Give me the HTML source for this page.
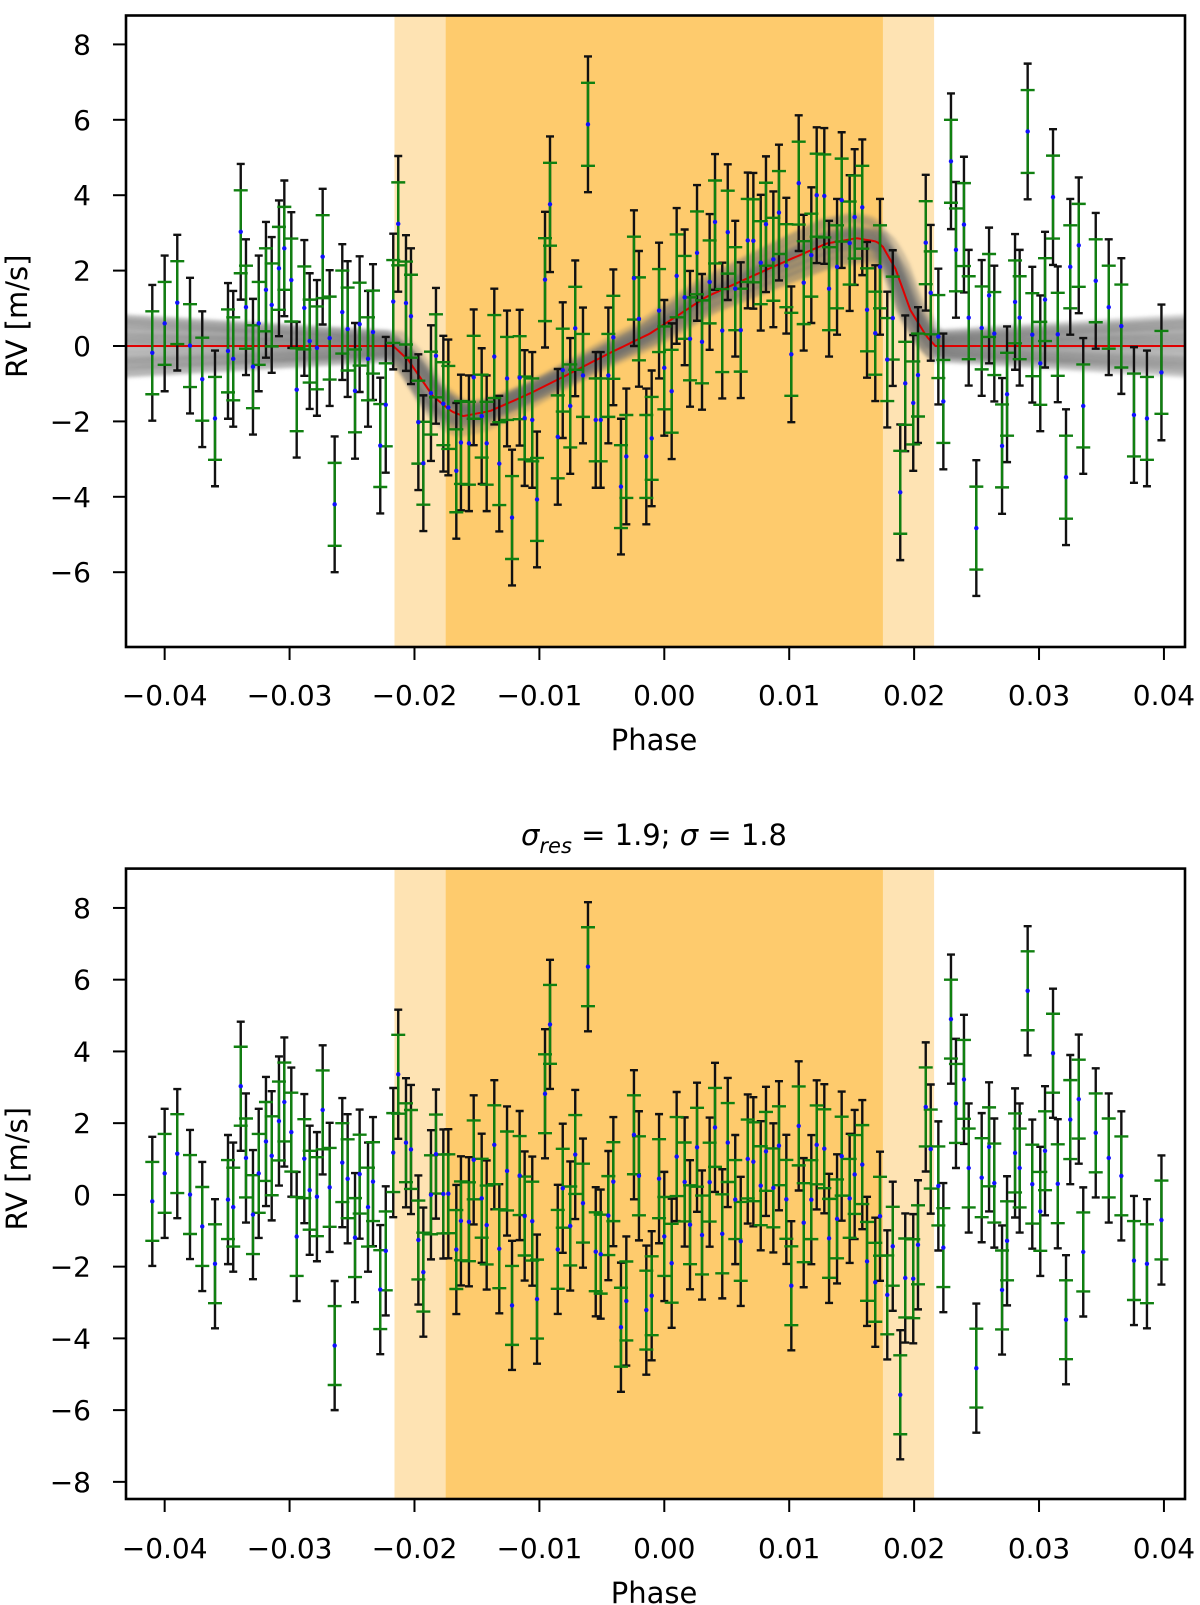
<!DOCTYPE html>
<html><head><meta charset="utf-8"><style>
html,body{margin:0;padding:0;background:#fff;}
svg{display:block;font-family:"DejaVu Sans","Liberation Sans",sans-serif;}
</style></head><body>
<svg id="chart" width="1200" height="1605" viewBox="0 0 1200 1605" xmlns="http://www.w3.org/2000/svg">
<defs>
<clipPath id="clipTop"><rect x="126" y="15.5" width="1059" height="631.5"/></clipPath>
<clipPath id="clipBot"><rect x="126" y="868.6" width="1059" height="630.4"/></clipPath>
<filter id="soft"><feGaussianBlur stdDeviation="1.5"/></filter>
</defs>
<g id="top"></g>
<g id="bot"></g>
<text x="654" y="845" text-anchor="middle" font-size="29"><tspan font-style="italic">σ</tspan><tspan font-style="italic" font-size="21" dy="8">res</tspan><tspan dy="-8"> = 1.9; </tspan><tspan font-style="italic">σ</tspan><tspan> = 1.8</tspan></text>
</svg>
<script>
const phase=[-0.04099,-0.04000,-0.03899,-0.03797,-0.03699,-0.03597,-0.03493,-0.03451,-0.03391,-0.03349,-0.03293,-0.03247,-0.03189,-0.03143,-0.03085,-0.03042,-0.02986,-0.02943,-0.02882,-0.02839,-0.02781,-0.02735,-0.02679,-0.02639,-0.02578,-0.02535,-0.02476,-0.02439,-0.02372,-0.02332,-0.02274,-0.02230,
-0.02170,-0.02130,-0.02068,-0.02028,-0.01969,-0.01929,-0.01868,-0.01828,-0.01769,-0.01729,-0.01665,-0.01628,-0.01564,-0.01526,-0.01462,-0.01422,-0.01361,-0.01321,-0.01259,-0.01219,-0.01158,-0.01118,-0.01057,-0.01019,-0.00955,-0.00915,-0.00853,-0.00813,-0.00753,-0.00713,-0.00651,-0.00611,-0.00549,-0.00509,-0.00448,-0.00408,-0.00347,-0.00304,-0.00243,-0.00203,-0.00144,
-0.00101,-0.00042,0.00000,0.00059,0.00099,0.00163,0.00206,0.00262,0.00302,0.00363,0.00406,0.00464,0.00508,0.00568,0.00612,0.00668,0.00713,0.00772,0.00814,0.00873,0.00918,0.00977,0.01017,0.01076,0.01116,0.01177,0.01220,0.01281,0.01319,0.01383,0.01420,0.01484,0.01524,0.01585,0.01623,0.01689,0.01727,0.01785,0.01829,0.01889,0.01929,
0.01993,0.02031,0.02093,0.02133,0.02194,0.02234,0.02295,0.02335,0.02399,0.02437,0.02498,0.02541,0.02600,0.02642,0.02704,0.02744,0.02808,0.02845,0.02909,0.02946,0.03010,0.03048,0.03112,0.03150,0.03216,0.03250,0.03318,0.03354,0.03454,0.03558,0.03659,0.03760,0.03864,0.03980];
const rv=[-0.18,0.60,1.15,0.01,-0.88,-1.92,-0.13,-0.34,3.03,1.03,-0.55,0.60,1.49,1.09,2.06,2.59,1.75,-1.16,1.01,0.13,-0.05,2.37,0.21,-4.20,0.90,0.45,-1.19,0.58,-0.34,0.37,-2.64,-1.56,
1.18,3.24,1.14,0.79,-2.02,-3.11,-1.25,-0.26,-1.53,-1.63,-3.31,-2.56,-2.58,-0.83,-1.86,-2.58,-0.28,-3.12,-0.86,-4.55,-0.84,-1.91,-1.96,-4.07,1.76,3.76,-2.41,-0.64,-1.59,0.47,-0.78,5.88,-1.96,-1.96,-0.78,0.23,-3.73,-2.93,1.80,0.72,-2.93,
-2.45,0.94,-0.58,-1.20,1.86,1.29,0.19,2.47,0.11,1.70,3.29,0.41,3.02,1.52,0.42,2.80,2.79,2.21,3.23,2.30,3.54,2.13,-0.22,4.32,1.68,2.41,4.00,3.98,1.52,2.10,3.87,2.73,3.42,3.68,0.96,0.34,2.10,-0.36,0.74,-3.88,-0.99,
-1.51,-0.77,2.74,1.41,0.25,-1.47,4.90,2.55,3.22,0.75,-4.83,0.48,1.34,0.33,-2.65,-1.28,1.17,0.75,5.69,0.30,-0.46,1.23,3.95,0.31,-3.48,2.10,2.67,-1.59,1.73,1.03,0.53,-1.83,-1.92,-0.70];
const errOuter=1.8;
const errInner=1.1;
const modelPhase=[-0.0431,-0.0217,-0.0205,-0.0185,-0.0170,-0.0161,-0.0139,-0.0107,-0.0078,-0.0044,-0.0012,0.0034,0.0087,0.0130,0.0154,0.0170,0.0175,0.0185,0.0197,0.0210,0.0217,0.0417];
const modelRV=[0,0,-0.37,-1.34,-1.74,-1.86,-1.72,-1.25,-0.77,-0.19,0.32,1.31,2.10,2.72,2.86,2.77,2.63,2.05,0.95,0.25,0,0];
const sampleOffset=[0.5,-0.45,0.3,-0.3,0.15,-0.15,0.4,-0.5,0.05,-0.05,0.25,-0.25,0.45,-0.35,0.1];
const sampleScale=[1.1,0.9,1.15,0.85,1.05,0.95,1.0,1.12,0.88,1.08,0.92,1.02,0.98,1.06,0.94];
const sampleShift=[0.0006,-0.0006,0.0003,-0.0003,0.0008,-0.0008,0.0,0.0004,-0.0004,0.0002,-0.0002,0.0007,-0.0007,0.0005,-0.0005];
const xTicks=[-0.04,-0.03,-0.02,-0.01,0.00,0.01,0.02,0.03,0.04];
const xTickLabels=["−0.04","−0.03","−0.02","−0.01","0.00","0.01","0.02","0.03","0.04"];
const yTicksTop=[-6,-4,-2,0,2,4,6,8];
const yTicksBot=[-8,-6,-4,-2,0,2,4,6,8];
const transitOuter=[-0.0216,0.0216];
const transitInner=[-0.0175,0.0175];

const NS="http://www.w3.org/2000/svg";
const X=p=>664.3+p*12491;
const L=126,R=1185;
function mk(tag,attrs,parent){const e=document.createElementNS(NS,tag);for(const k in attrs)e.setAttribute(k,attrs[k]);parent.appendChild(e);return e;}
function model(p){if(p<=modelPhase[0])return modelRV[0];for(let i=1;i<modelPhase.length;i++){if(p<=modelPhase[i]){const t=(p-modelPhase[i-1])/(modelPhase[i]-modelPhase[i-1]);return modelRV[i-1]+t*(modelRV[i]-modelRV[i-1]);}}return modelRV[modelRV.length-1];}

function panel(g,top,bottom,y0,ppu,yticks,vals,isTop,clip,labelBase){
  const Y=v=>y0-v*ppu;
  const inner=mk('g',{'clip-path':'url(#'+clip+')'},g);
  let r=mk('rect',{x:X(transitOuter[0]),y:top,width:X(transitOuter[1])-X(transitOuter[0]),height:bottom-top,fill:'#fee3b3'},inner);
  
  
  r=mk('rect',{x:X(transitInner[0]),y:top,width:X(transitInner[1])-X(transitInner[0]),height:bottom-top,fill:'#fecb6d'},inner);
  
  
  if(isTop){
    const sg=mk('g',{filter:'url(#soft)'},inner);
    
    
    for(let s=0;s<sampleOffset.length;s++){
      let d='';
      for(let p=-0.0435;p<=0.0425;p+=0.0004){
        const q=p+sampleShift[s];
        const out=Math.max(0,Math.abs(q)-0.0217);
        const v=model(q)*sampleScale[s]+sampleOffset[s]*(0.6+out*40)*(Math.abs(q)<0.0217?0.7:1);
        d+=(d?'L':'M')+X(p).toFixed(1)+','+Y(v).toFixed(1);
      }
      mk('path',{d:d,fill:'none',stroke:'rgba(110,110,110,0.3)','stroke-width':10},sg);
    }
    let d='';
    for(let p=-0.0435;p<=0.0425;p+=0.0002){d+=(d?'L':'M')+X(p).toFixed(1)+','+Y(model(p)).toFixed(1);}
    const m=mk('path',{d:d,fill:'none',stroke:'#e00000','stroke-width':2},inner);
    
    
  }
  const n=Math.min(phase.length,vals.length);
  const bg=mk('g',{},inner);
  
  
  for(let i=0;i<n;i++){
    const x=X(phase[i]),a=Y(vals[i]+errOuter),b=Y(vals[i]-errOuter);
    mk('path',{d:`M${x},${a}V${b}M${x-4},${a}H${x+4}M${x-4},${b}H${x+4}`,stroke:'#111','stroke-width':2.4,fill:'none'},bg);
  }
  const gg=mk('g',{},inner);
  
  
  for(let i=0;i<n;i++){
    const x=X(phase[i]),a=Y(vals[i]+errInner),b=Y(vals[i]-errInner);
    mk('path',{d:`M${x},${a}V${b}M${x-7},${a}H${x+7}M${x-7},${b}H${x+7}`,stroke:'#108010','stroke-width':2.4,fill:'none'},gg);
  }
  for(let i=0;i<n;i++){
    const c=mk('circle',{cx:X(phase[i]),cy:Y(vals[i]),r:2.2,fill:'#1010ff'},inner);
    
    
  }
  const box=mk('rect',{x:L,y:top,width:R-L,height:bottom-top,fill:'none',stroke:'#000','stroke-width':2.6},g);
  
  
  xTicks.forEach((t,i)=>{
    mk('line',{x1:X(t),x2:X(t),y1:bottom,y2:bottom+13,stroke:'#000','stroke-width':2},g);
    const tx=mk('text',{x:X(t),y:labelBase,'text-anchor':'middle','font-size':28},g);
    tx.textContent=xTickLabels[i];
    
    
  });
  yticks.forEach(t=>{
    mk('line',{x1:L-13,x2:L,y1:Y(t),y2:Y(t),stroke:'#000','stroke-width':2},g);
    const tx=mk('text',{x:91,y:Y(t)+10,'text-anchor':'end','font-size':28},g);
    tx.textContent=(t<0?'−':'')+Math.abs(t);
    
    
  });
  const yl=mk('text',{x:0,y:0,'text-anchor':'middle','font-size':29,transform:`translate(27,${(top+bottom)/2-15}) rotate(-90)`},g);
  yl.textContent='RV [m/s]';
  
  
  const xl=mk('text',{x:654,y:labelBase+45,'text-anchor':'middle','font-size':29},g);
  xl.textContent='Phase';
  
  
}
const resid=rv.map((v,i)=>v-model(phase[i]));
panel(document.getElementById('top'),15.5,647,346,37.7,yTicksTop,rv,true,'clipTop',705);
panel(document.getElementById('bot'),868.6,1499,1194.9,35.87,yTicksBot,resid,false,'clipBot',1558);
</script>
</body></html>
